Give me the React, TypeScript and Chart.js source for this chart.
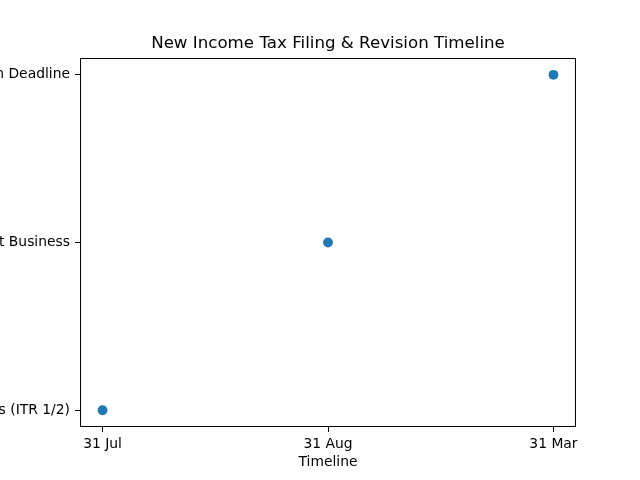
import React, { useEffect, useRef } from "react";
import { Chart, registerables } from "chart.js";

Chart.register(...registerables);

const xLabels = ["31 Jul", "31 Aug", "31 Mar"];
const yLabels = [
  "Salaried Individuals (ITR 1/2)",
  "Non-Audit Business",
  "Belated & Revised Return Deadline",
];
const pointDates = ["31 Jul", "31 Aug", "31 Mar"];
const pointCategories = [
  "Salaried Individuals (ITR 1/2)",
  "Non-Audit Business",
  "Belated & Revised Return Deadline",
];
const chartTitle = "New Income Tax Filing & Revision Timeline";
const xTitle = "Timeline";

const FONT = "'DejaVu Sans', sans-serif";

const framePlugin = {
  id: "frame",
  afterDraw(chart: any) {
    const { ctx, chartArea } = chart;
    ctx.save();
    ctx.strokeStyle = "#000";
    ctx.lineWidth = 1;
    ctx.strokeRect(
      Math.round(chartArea.left) + 0.5,
      Math.round(chartArea.top) + 0.5,
      Math.round(chartArea.right - chartArea.left) - 1,
      Math.round(chartArea.bottom - chartArea.top) - 1
    );
    ctx.restore();
  },
};

export default function App() {
  const ref = useRef<HTMLCanvasElement | null>(null);
  useEffect(() => {
    document.body.style.margin = "0";
    const canvas = ref.current;
    if (!canvas) return;
    const data = pointDates.map((d, i) => ({
      x: xLabels.indexOf(d),
      y: yLabels.indexOf(pointCategories[i]),
    }));
    const chart = new Chart(canvas, {
      type: "scatter",
      data: {
        datasets: [
          {
            data,
            backgroundColor: "#1f77b4",
            borderColor: "#1f77b4",
            pointRadius: 4.9,
            pointHoverRadius: 4.9,
            borderWidth: 0,
          },
        ],
      },
      options: {
        responsive: false,
        animation: false,
        layout: { padding: { left: 0, right: 64, top: 0, bottom: 0 } },
        plugins: {
          legend: { display: false },
          tooltip: { enabled: false },
          title: {
            display: true,
            text: chartTitle,
            fullSize: false,
            color: "#000",
            font: { family: FONT, size: 16.67, weight: "normal", lineHeight: 1.2 },
            padding: { top: 34, bottom: 4 },
          },
        },
        scales: {
          x: {
            type: "linear",
            min: -0.1,
            max: 2.1,
            afterBuildTicks: (s: any) => {
              s.ticks = xLabels.map((_, i) => ({ value: i }));
            },
            afterFit: (s: any) => {
              s.height = 53;
            },
            grid: {
              display: true,
              drawOnChartArea: false,
              drawTicks: true,
              tickLength: 5,
              tickColor: "#000",
              tickWidth: 1,
            },
            border: { display: false },
            ticks: {
              autoSkip: false,
              maxRotation: 0,
              padding: 4,
              color: "#000",
              font: { family: FONT, size: 13.89 },
              callback: (v: any) => xLabels[v as number],
            },
            title: {
              display: true,
              text: xTitle,
              color: "#000",
              font: { family: FONT, size: 13.89, lineHeight: 1.2 },
              padding: { top: 0, bottom: 9 },
            },
          },
          y: {
            type: "linear",
            min: -0.1,
            max: 2.1,
            afterBuildTicks: (s: any) => {
              s.ticks = yLabels.map((_, i) => ({ value: i }));
            },
            afterFit: (s: any) => {
              s.width = 80;
            },
            grid: {
              display: true,
              drawOnChartArea: false,
              drawTicks: true,
              tickLength: 5,
              tickColor: "#000",
              tickWidth: 1,
            },
            border: { display: false },
            ticks: {
              autoSkip: false,
              padding: 5,
              color: "#000",
              font: { family: FONT, size: 13.89 },
              callback: (v: any) => yLabels[v as number],
            },
          },
        },
      },
      plugins: [framePlugin],
    } as any);
    return () => chart.destroy();
  }, []);
  return <canvas ref={ref} width={640} height={480} style={{ display: "block" }} />;
}
